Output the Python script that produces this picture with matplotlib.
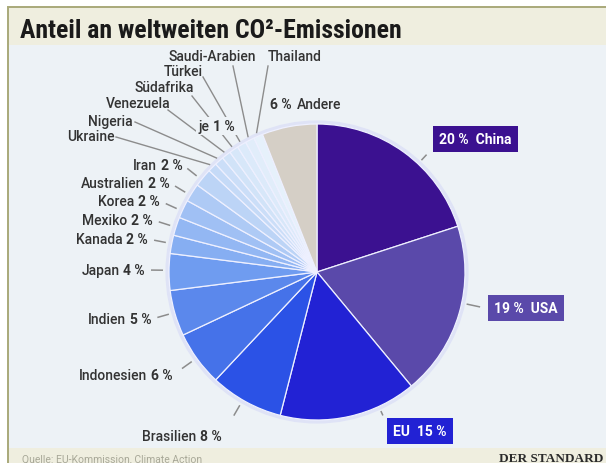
"""Anteil an weltweiten CO2-Emissionen - pie chart in DER STANDARD style."""
import numpy as np
import matplotlib
matplotlib.use('Agg')
import matplotlib.pyplot as plt
import matplotlib.font_manager as fm
from matplotlib.patches import Rectangle, Circle

W, H = 606, 464

countries = ['China', 'USA', 'EU', 'Brasilien', 'Indonesien', 'Indien', 'Japan',
             'Kanada', 'Mexiko', 'Korea', 'Australien', 'Iran', 'Ukraine',
             'Nigeria', 'Venezuela', 'Südafrika', 'Türkei', 'Saudi-Arabien',
             'Thailand', 'Andere']
shares = [20, 19, 15, 8, 6, 5, 4, 2, 2, 2, 2, 2, 1, 1, 1, 1, 1, 1, 1, 6]

slice_colors = ['#3b1190', '#5a49aa', '#2222d4', '#2b52e6', '#4572e9', '#5b88ec',
                '#6f9cf0', '#86aef2', '#93b7f3', '#a0c0f4', '#aecaf5', '#bcd4f6',
                '#c5daf7', '#cbdef8', '#d1e3f8', '#d7e7f9', '#dceafa', '#e1edfa',
                '#e6f1fb', '#d5cfc6']

# layout (pixel coords, y down)
CX, CY, R = 317, 273, 148
BODY = '#edf2f6'
BAND = '#efeedf'
TXT = '#333333'
LINE = '#8c8c8c'

names_installed = {f.name for f in fm.fontManager.ttflist}


def pick(cands, default):
    for c in cands:
        if c in names_installed:
            return c
    return default


TITLE_FONT = pick(['Roboto Condensed', 'Liberation Sans Narrow'], 'DejaVu Sans')
LABEL_FONT = pick(['Roboto', 'Lato'], 'DejaVu Sans')
plt.rcParams['font.family'] = [LABEL_FONT, 'DejaVu Sans']
NAME_W = 'medium'

fig = plt.figure(figsize=(W / 100, H / 100), dpi=100)
fig.patch.set_facecolor('white')
ax = fig.add_axes([0, 0, 1, 1])

# frame, title band, footer band
ax.add_patch(Rectangle((8, 8), W, H, facecolor=BODY, edgecolor='#a9a979',
                       lw=1.4, zorder=0))
ax.add_patch(Rectangle((9, 9), W, 37, facecolor=BAND, edgecolor='none', zorder=0.5))
ax.add_patch(Rectangle((9, 449), W, 20, facecolor=BAND, edgecolor='none', zorder=0.5))

# soft halo round the pie
ax.add_patch(Circle((CX, CY), R + 1.5, facecolor='none', edgecolor='#dfe3f6',
                    lw=3, zorder=1))

# y axis points down, so counterclock=True turns clockwise on screen
wedges, _ = ax.pie(shares, colors=slice_colors, center=(CX, CY), radius=R,
                   startangle=-90, counterclock=True,
                   wedgeprops=dict(edgecolor='#eef0ff', linewidth=0.9, zorder=2))
ax.set_xlim(0, W)
ax.set_ylim(H, 0)
ax.set_aspect('equal', adjustable='box')
ax.axis('off')

cum = np.cumsum(shares) - np.array(shares) / 2
mid_ang = np.deg2rad(-90 + 3.6 * cum)

FS = 10


def leader_to(anchor, r1=154, r2=166):
    dx, dy = anchor[0] - CX, anchor[1] - CY
    d = np.hypot(dx, dy)
    r2 = min(r2, d - 5)
    ux, uy = dx / d, dy / d
    ax.plot([CX + r1 * ux, CX + r2 * ux], [CY + r1 * uy, CY + r2 * uy],
            color=LINE, lw=1.1, zorder=3, solid_capstyle='butt')


def left_label(name, pct, x, y):
    t = ax.text(x, y, pct, ha='right', va='center', fontsize=FS,
                fontweight='bold', color=TXT, zorder=5)
    ax.annotate(name, xy=(0, 0.5), xycoords=t, xytext=(-4, 0),
                textcoords='offset pixels', ha='right', va='center',
                fontsize=FS, fontweight=NAME_W, color=TXT, zorder=5)
    leader_to((x, y))


# labels left of the pie: right end x, centre y
left_pos = {'Iran': (183, 166), 'Australien': (170, 184), 'Korea': (160, 202),
            'Mexiko': (153, 221), 'Kanada': (148, 240), 'Japan': (145, 271),
            'Indien': (152, 320), 'Indonesien': (173, 376), 'Brasilien': (222, 437)}
for name, share in zip(countries, shares):
    if name in left_pos:
        left_label(name, f'{share} %', *left_pos[name])

# boxed labels of the three largest emitters
box_pos = {'China': ((475, 140), (430, 152), '{p} %  {n}'),
           'USA': ((526, 309), (485, 309), '{p} %  {n}'),
           'EU': ((420, 432), (385, 421), '{n}  {p} %')}
for name, share, col in zip(countries, shares, slice_colors):
    if name in box_pos:
        (bx, by), anchor, fmt = box_pos[name]
        ax.text(bx, by, fmt.format(p=share, n=name), ha='center', va='center',
                fontsize=FS, fontweight='bold', color='white', zorder=6,
                bbox=dict(boxstyle='square,pad=0.45', facecolor=col,
                          edgecolor='none'))
        leader_to(anchor, r1=153, r2=167)

# 1 % countries: text position, alignment and start of the leader line
small = {'Ukraine': ((115, 137), 'right', (116, 138)),
         'Nigeria': ((133, 122), 'right', (135, 123)),
         'Venezuela': ((170, 104), 'right', (168, 111)),
         'Südafrika': ((194, 88), 'right', (192, 97)),
         'Türkei': ((203, 72), 'right', (203, 78)),
         'Saudi-Arabien': ((168, 57), 'left', (233, 67)),
         'Thailand': ((268, 57), 'left', (268, 67))}
for i, name in enumerate(countries):
    if name in small:
        (tx, ty), ha, (sx, sy) = small[name]
        ax.text(tx, ty, name, ha=ha, va='center', fontsize=FS, fontweight=NAME_W,
                color=TXT, zorder=5)
        ex = CX + 152 * np.cos(mid_ang[i])
        ey = CY + 152 * np.sin(mid_ang[i])
        ax.plot([sx, ex], [sy, ey], color=LINE, lw=1.0, zorder=3)

# "je 1 %" sits on top of the leader lines
t = ax.text(235, 127, '1 %', ha='right', va='center', fontsize=FS,
            fontweight='bold', color=TXT, zorder=7,
            bbox=dict(boxstyle='square,pad=0.15', facecolor=BODY, edgecolor='none'))
ax.annotate('je', xy=(0, 0.5), xycoords=t, xytext=(-4, 0),
            textcoords='offset pixels', ha='right', va='center', fontsize=FS,
            fontweight=NAME_W, color=TXT, zorder=7,
            bbox=dict(boxstyle='square,pad=0.15', facecolor=BODY, edgecolor='none'))

# Andere
t = ax.text(270, 105, f'{shares[-1]} %', ha='left', va='center', fontsize=FS,
            fontweight='bold', color=TXT, zorder=5)
ax.annotate(countries[-1], xy=(1, 0.5), xycoords=t, xytext=(5, 0),
            textcoords='offset pixels', ha='left', va='center', fontsize=FS,
            fontweight=NAME_W, color=TXT, zorder=5)

# title and footer
ax.text(20, 31, 'Anteil an weltweiten CO²-Emissionen', ha='left', va='center',
        fontsize=18.5, fontweight='bold', color='#1a1a1a', zorder=5,
        family=[TITLE_FONT, 'DejaVu Sans'])
ax.text(22, 459, 'Quelle: EU-Kommission, Climate Action', ha='left', va='center',
        fontsize=7.5, color='#a8a898', zorder=5)
ax.text(603, 459, 'DER STANDARD', ha='right', va='center', fontsize=9.5,
        fontweight='bold', color='#2a2a2a', family=['Liberation Serif', 'DejaVu Serif'],
        zorder=5)

fig.savefig('out.png', dpi=100, facecolor=fig.get_facecolor())
